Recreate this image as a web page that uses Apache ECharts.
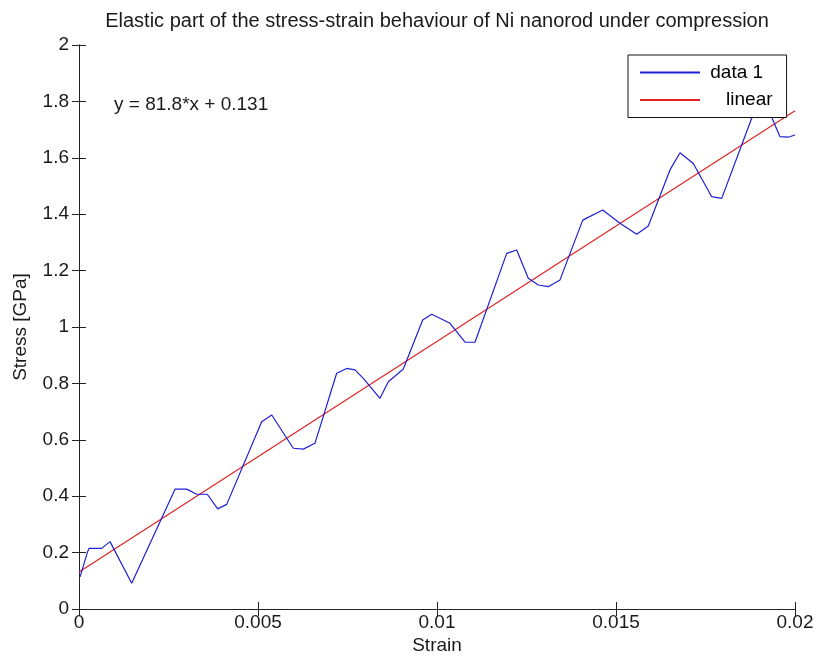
<!DOCTYPE html>
<html>
<head>
<meta charset="utf-8">
<script src="https://cdn.jsdelivr.net/npm/echarts@6/dist/echarts.min.js"></script>
<style>html,body{margin:0;padding:0;background:#fff;}#chart{width:818px;height:667px;}</style>
</head>
<body>
<div id="chart"></div>
<script>
// Measured data (strain, stress in GPa)
const strain = [0.00003, 0.000232, 0.000279, 0.000634, 0.000866, 0.001472, 0.002682, 0.003008, 0.003288, 0.003584,
  0.003874, 0.004126, 0.005103, 0.005383, 0.005986, 0.006265, 0.006592, 0.007198, 0.007478, 0.00771,
  0.007941, 0.008408, 0.00864, 0.009059, 0.0096, 0.009852, 0.010363, 0.010782, 0.011061, 0.011947,
  0.012226, 0.01255, 0.01283, 0.013109, 0.013436, 0.01407, 0.014628, 0.015112, 0.015578, 0.015902,
  0.016508, 0.016788, 0.017159, 0.017673, 0.017953, 0.01879, 0.019106, 0.019358, 0.019581, 0.019804, 0.02];
const stress = [0.114, 0.200, 0.215, 0.215, 0.239, 0.091, 0.425, 0.425, 0.407, 0.407,
  0.355, 0.371, 0.664, 0.688, 0.570, 0.567, 0.588, 0.836, 0.853, 0.848,
  0.818, 0.747, 0.806, 0.851, 1.025, 1.045, 1.013, 0.946, 0.946, 1.261,
  1.273, 1.173, 1.149, 1.143, 1.167, 1.379, 1.415, 1.368, 1.329, 1.358,
  1.557, 1.618, 1.580, 1.462, 1.456, 1.740, 1.805, 1.741, 1.675, 1.673, 1.681];
const fitStrain = [0, 0.02];
const fitStress = [0.131, 1.767];
const xTicks = [0, 0.005, 0.01, 0.015, 0.02];
const yTicks = [0, 0.2, 0.4, 0.6, 0.8, 1, 1.2, 1.4, 1.6, 1.8, 2];
const titleText = 'Elastic part of the stress-strain behaviour of Ni nanorod under compression';
const xName = 'Strain';
const yName = 'Stress [GPa]';
const eqText = 'y = 81.8*x + 0.131';
const seriesNames = ['data 1', '   linear'];

const FONT = "'Liberation Sans', Arial, sans-serif";
const TXT = '#1a1a1a';
const FS = 19;

const chart = echarts.init(document.getElementById('chart'), null, {renderer: 'canvas'});
const axisLine = {show: true, lineStyle: {color: '#222', width: 1}};
const tick = {show: true, inside: true, length: 7, lineStyle: {color: '#222', width: 1}};
const fmt = v => String(+(+v).toFixed(4));

chart.setOption({
  animation: false,
  backgroundColor: '#fff',
  grid: {left: 79, right: 23, top: 45, bottom: 58, show: false},
  xAxis: [
    {type: 'value', position: 'bottom', min: xTicks[0], max: xTicks[xTicks.length - 1], interval: xTicks[1] - xTicks[0],
     axisLine, axisTick: tick, splitLine: {show: false},
     axisLabel: {formatter: fmt, fontSize: FS, fontFamily: FONT, color: TXT, margin: 4}},
    {type: 'value', position: 'top', min: xTicks[0], max: xTicks[xTicks.length - 1], interval: xTicks[1] - xTicks[0],
     axisLine, axisTick: tick, splitLine: {show: false}, axisLabel: {show: false}}
  ],
  yAxis: [
    {type: 'value', position: 'left', min: yTicks[0], max: yTicks[yTicks.length - 1], interval: yTicks[1] - yTicks[0],
     axisLine, axisTick: tick, splitLine: {show: false},
     axisLabel: {formatter: fmt, fontSize: FS, fontFamily: FONT, color: TXT, margin: 10}},
    {type: 'value', position: 'right', min: yTicks[0], max: yTicks[yTicks.length - 1], interval: yTicks[1] - yTicks[0],
     axisLine, axisTick: tick, splitLine: {show: false}, axisLabel: {show: false}}
  ],
  legend: {
    orient: 'vertical', left: 628, top: 55,
    padding: [8, 14, 8, 12], itemGap: 8.5, itemWidth: 60, itemHeight: 2, icon: 'rect',
    backgroundColor: '#fff', borderColor: '#111', borderWidth: 1,
    formatter: n => ' ' + n,
    textStyle: {fontSize: FS, fontFamily: FONT, color: '#000'},
    data: seriesNames
  },
  series: [
    {name: seriesNames[0], type: 'line', symbol: 'none', smooth: false,
     lineStyle: {color: '#1f1fd6', width: 1.2}, itemStyle: {color: '#1f1fd6'},
     data: strain.map((x, i) => [x, stress[i]]), z: 3},
    {name: seriesNames[1], type: 'line', symbol: 'none',
     lineStyle: {color: '#e02424', width: 1.2}, itemStyle: {color: '#e02424'},
     data: fitStrain.map((x, i) => [x, fitStress[i]]), z: 2}
  ],
  graphic: [
    {type: 'text', x: 437, y: 21, style: {text: titleText, align: 'center', verticalAlign: 'middle', fontSize: 20, fontFamily: FONT, fill: TXT}},
    {type: 'text', x: 437, y: 646, style: {text: xName, align: 'center', verticalAlign: 'middle', fontSize: FS, fontFamily: FONT, fill: TXT}},
    {type: 'text', x: 21, y: 327, rotation: Math.PI / 2, style: {text: yName, align: 'center', verticalAlign: 'middle', fontSize: FS, fontFamily: FONT, fill: TXT}},
    {type: 'text', x: 114, y: 105, z: 10, style: {text: eqText, align: 'left', verticalAlign: 'middle', fontSize: FS, fontFamily: FONT, fill: TXT}}
  ]
});
</script>
</body>
</html>
